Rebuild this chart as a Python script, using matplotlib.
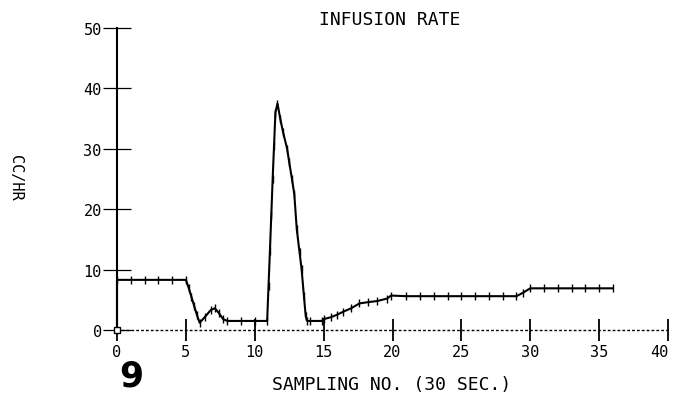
import matplotlib
matplotlib.use("Agg")
import matplotlib.pyplot as plt

# ---- data ----
sample_no = [0, 0, 1, 2, 3, 4, 5, 5.2, 5.4, 5.6, 5.8, 6.0, 6.4, 6.8, 7.1, 7.4, 7.7,
             8.0, 9.0, 10.0, 10.9, 11.0, 11.1, 11.2, 11.3, 11.4, 11.5, 11.65, 11.85,
             12.05, 12.35, 12.5, 12.7, 12.87, 13.05, 13.25, 13.4, 13.57, 13.7, 13.8,
             14.0, 14.85, 15.0, 15.5, 15.95, 16.4, 17.0, 17.6, 18.2, 18.9, 19.6, 19.9,
             21, 22, 23, 24, 25, 26, 27, 28, 29, 29.5, 30, 31, 32, 33, 34, 35, 36]
rate = [0, 8.3, 8.3, 8.3, 8.3, 8.3, 8.3, 7.0, 5.5, 4.0, 2.5, 1.2, 2.2, 3.3, 3.6, 2.8, 1.8,
        1.5, 1.5, 1.5, 1.5, 7.3, 13.0, 19.0, 25.0, 30.5, 36.0, 37.5, 35.0,
        32.8, 30.0, 27.8, 25.0, 22.5, 16.7, 12.9, 10.1, 5.6, 2.3, 1.5,
        1.5, 1.5, 1.8, 2.1, 2.5, 3.0, 3.6, 4.4, 4.6, 4.8, 5.2, 5.7,
        5.6, 5.6, 5.6, 5.6, 5.6, 5.6, 5.6, 5.6, 5.6, 6.2, 6.9, 6.9, 6.9, 6.9, 6.9, 6.9, 6.9]
x_ticks = [0, 5, 10, 15, 20, 25, 30, 35, 40]
y_ticks = [0, 10, 20, 30, 40, 50]
title = "INFUSION RATE"
x_label = "SAMPLING NO. (30 SEC.)"
y_label = "CC/HR"
panel = "9"

mono = "DejaVu Sans Mono"

fig = plt.figure(figsize=(6.73, 4.02), dpi=100)
ax = fig.add_axes([117 / 673, (402 - 331) / 402, 551 / 673, 302 / 402])
ax.set_xlim(0, 40)
ax.set_ylim(0, 50)

ax.plot(sample_no, rate, color="black", lw=1.5, marker="|", ms=6, mew=1.0,
        clip_on=False, zorder=3)
ax.plot(sample_no[:1], rate[:1], color="black", marker="s", ms=4, mfc="white",
        mew=1.0, clip_on=False, zorder=4)

for s in ["top", "right"]:
    ax.spines[s].set_visible(False)
ax.spines["left"].set_linewidth(1.5)
ax.spines["left"].set_color("black")
ax.spines["bottom"].set_linestyle((0, (1, 2.5)))
ax.spines["bottom"].set_linewidth(1.0)
ax.spines["bottom"].set_color("black")

ax.set_xticks(x_ticks)
ax.set_yticks(y_ticks)
ax.set_xticklabels([str(v) for v in x_ticks], fontfamily=mono, fontsize=11)
ax.set_yticklabels([str(v) for v in y_ticks], fontfamily=mono, fontsize=11)
ax.tick_params(axis="x", direction="inout", length=16, width=1.3, pad=2, colors="black")
ax.tick_params(axis="y", direction="inout", length=20, width=0.9, pad=1, colors="black")
ax.get_xticklabels()[-1].set_horizontalalignment("right")

fig.text(390 / 673, 1 - 20 / 402, title, ha="center", va="center",
         fontfamily=mono, fontsize=13)
fig.text(392 / 673, 1 - 385 / 402, x_label, ha="center", va="center",
         fontfamily=mono, fontsize=13)
fig.text(15 / 673, 1 - 178 / 402, y_label, ha="center", va="center",
         rotation=270, fontfamily=mono, fontsize=11)
fig.text(131 / 673, 1 - 377 / 402, panel, ha="center", va="center",
         fontfamily="DejaVu Sans", fontweight="bold", fontsize=25)

fig.savefig("out.png", dpi=100, facecolor="white")
